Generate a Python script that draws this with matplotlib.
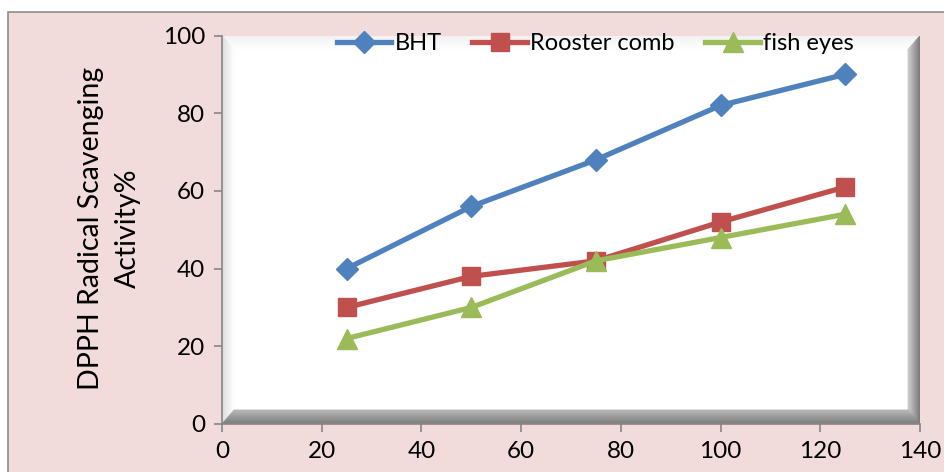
import numpy as np
import matplotlib.pyplot as plt
from matplotlib.patches import Polygon, Rectangle
from matplotlib.colors import to_rgb

# concentration values and activity for each sample
conc = [25, 50, 75, 100, 125]
bht = [40, 56, 68, 82, 90]
rooster = [30, 38, 42, 52, 61]
fish = [22, 30, 42, 48, 54]

series_names = ['BHT', 'Rooster comb', 'fish eyes']
x_ticks = [0, 20, 40, 60, 80, 100, 120, 140]
y_ticks = [0, 20, 40, 60, 80, 100]

plt.rcParams['font.family'] = ['Lato', 'DejaVu Sans']
FS = 17

W, H = 944, 472
fig = plt.figure(figsize=(W / 100, H / 100), dpi=100)
fig.patch.set_facecolor('white')

# pink chart area with grey border
fig.patches.append(Rectangle((8 / W, -0.1), 1.2, 1 - 12 / H + 0.1, transform=fig.transFigure,
                             facecolor='#F2DCDB', edgecolor='#8c8c8c', linewidth=1.2, zorder=-10))

ax_l, ax_r, ax_b, ax_t = 222, 920, 424, 35.5
ax = fig.add_axes([ax_l / W, 1 - ax_b / H, (ax_r - ax_l) / W, (ax_b - ax_t) / H])
ax.set_facecolor('white')


def mix(c1, c2, t):
    a, b = np.array(to_rgb(c1)), np.array(to_rgb(c2))
    return tuple(a + (b - a) * t)


def strip(pts, col):
    ax.add_patch(Polygon(pts, closed=True, transform=ax.transAxes, facecolor=col,
                         edgecolor=col, linewidth=0.6, zorder=0.5))


# bevel around the plot area
dx = 12 / (ax_r - ax_l)
dy = 14 / (ax_b - ax_t)
n = 12
for k in range(n):
    t0, t1 = k / n, (k + 1) / n
    strip([(t0 * dx, 1 - t0 * dy), (1 - t0 * dx, 1 - t0 * dy), (1 - t1 * dx, 1 - t1 * dy), (t1 * dx, 1 - t1 * dy)],
          mix('#f2f2f2', '#ffffff', t0))
    strip([(t0 * dx, t0 * dy), (t0 * dx, 1 - t0 * dy), (t1 * dx, 1 - t1 * dy), (t1 * dx, t1 * dy)],
          mix('#dcdcdc', '#ffffff', t0))
    strip([(1 - t0 * dx, t0 * dy), (1 - t0 * dx, 1 - t0 * dy), (1 - t1 * dx, 1 - t1 * dy), (1 - t1 * dx, t1 * dy)],
          mix('#7a7a7a', '#d0d0d0', t0))
    strip([(t0 * dx, t0 * dy), (1 - t0 * dx, t0 * dy), (1 - t1 * dx, t1 * dy), (t1 * dx, t1 * dy)],
          mix('#7a7a7a', '#b8b8b8', t0))

lw = 3.8
ax.plot(conc, bht, color='#4F81BD', lw=lw, marker='D', markersize=11.5, label=series_names[0], zorder=3)
ax.plot(conc, rooster, color='#C0504D', lw=lw, marker='s', markersize=13, label=series_names[1], zorder=3)
ax.plot(conc, fish, color='#9BBB59', lw=lw, marker='^', markersize=15, label=series_names[2], zorder=3)

ax.set_xlim(0, 140)
ax.set_ylim(0, 100)
ax.set_xticks(x_ticks)
ax.set_yticks(y_ticks)
for s in ['top', 'right']:
    ax.spines[s].set_visible(False)
for s in ['left', 'bottom']:
    ax.spines[s].set_color('#868686')
    ax.spines[s].set_linewidth(1.2)
ax.tick_params(axis='both', direction='out', length=6, width=1.2, color='#868686',
               labelsize=17.5, pad=6)

fig.text(91 / W, 1 - 228 / H, 'DPPH Radical Scavenging', rotation=90, ha='center', va='center', fontsize=20.5)
fig.text(128 / W, 1 - 228 / H, 'Activity%', rotation=90, ha='center', va='center', fontsize=20.5)

ax.legend(loc='upper center', bbox_to_anchor=(0.535, 1.03), ncol=3, frameon=False, fontsize=FS,
          handlelength=2.3, handletextpad=0.15, columnspacing=1.3, borderaxespad=0)

fig.savefig('out.png', dpi=100)
